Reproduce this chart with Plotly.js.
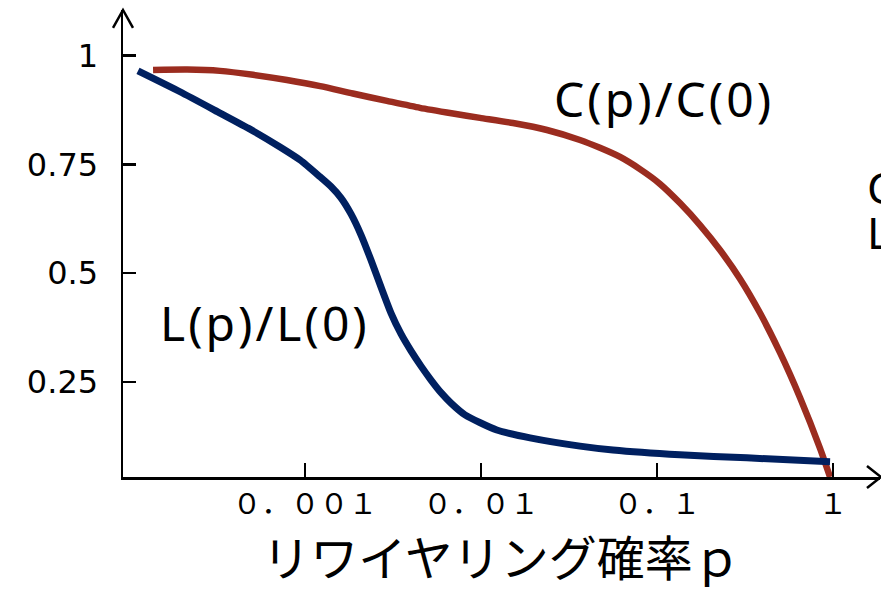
<!DOCTYPE html>
<html>
<head>
<meta charset="utf-8">
<script src="https://cdn.plot.ly/plotly-3.0.1.min.js"></script>
<style>
html,body{margin:0;padding:0;background:#fff;}
#chart{width:881px;height:590px;}
</style>
</head>
<body>
<div id="chart"></div>
<script>
// Rewiring probability p (log axis) and normalized values
var cP = [1.37e-4, 2.14e-4, 3.29e-4, 5.07e-4, 7.90e-4, 1.22e-3, 1.87e-3, 2.92e-3, 4.50e-3, 6.93e-3, 9.87e-3, 0.0152, 0.0237, 0.0365, 0.0474, 0.0617, 0.0800, 0.104, 0.135, 0.175, 0.228, 0.296, 0.385, 0.500, 0.649, 0.844, 0.962];
var cVal = [0.967, 0.968, 0.965, 0.956, 0.944, 0.930, 0.913, 0.896, 0.880, 0.867, 0.857, 0.845, 0.829, 0.806, 0.788, 0.767, 0.739, 0.705, 0.661, 0.611, 0.553, 0.487, 0.408, 0.317, 0.214, 0.097, 0.031];

var lP = [1.125e-4, 1.95e-4, 3.29e-4, 4.87e-4, 7.21e-4, 9.38e-4, 1.22e-3, 1.405e-3, 1.601e-3, 1.825e-3, 2.080e-3, 2.371e-3, 2.703e-3, 3.081e-3, 3.512e-3, 4.003e-3, 4.563e-3, 5.201e-3, 5.928e-3, 6.755e-3, 8.11e-3, 0.0123, 0.0190, 0.0365, 0.0562, 0.135, 0.324, 0.962];
var lVal = [0.965, 0.917, 0.868, 0.831, 0.790, 0.760, 0.721, 0.699, 0.673, 0.636, 0.588, 0.530, 0.468, 0.408, 0.360, 0.321, 0.286, 0.254, 0.225, 0.201, 0.174, 0.139, 0.121, 0.102, 0.093, 0.082, 0.075, 0.066];

var xTickVals = [0.001, 0.01, 0.1, 1];
var xTickText = ['０．００１', '０．０１', '０．１', '１'];
var yTickVals = [0.25, 0.5, 0.75, 1];
var yTickText = ['0.25', '0.5', '0.75', '1'];

var cLabel = 'C(p)/C(0)';
var lLabel = 'L(p)/L(0)';
var xTitle = 'リワイヤリング確率ｐ';

function spaced(t) { return '<span style="letter-spacing:3px">' + t + '</span>'; }

var traces = [
  {x: cP, y: cVal, type: 'scatter', mode: 'lines', name: cLabel,
   line: {color: '#9b2c1f', width: 6.5, shape: 'spline', smoothing: 0.6}},
  {x: lP, y: lVal, type: 'scatter', mode: 'lines', name: lLabel,
   line: {color: '#002060', width: 7, shape: 'spline', smoothing: 0.6}}
];

var layout = {
  width: 881, height: 590,
  margin: {l: 123, r: 1, t: 10, b: 113},
  paper_bgcolor: '#fff', plot_bgcolor: '#fff',
  showlegend: false,
  xaxis: {
    type: 'log', range: [-4.034, 0.267],
    showgrid: false, zeroline: false,
    showline: true, linecolor: '#000', linewidth: 2.5,
    ticks: 'inside', ticklen: 14, tickwidth: 2.5, tickcolor: '#000',
    tickvals: xTickVals, ticktext: xTickText,
    tickfont: {family: 'Noto Sans CJK JP', size: 29, color: '#000'},
    ticklabelstandoff: 0,
    title: {text: xTitle, font: {family: 'Noto Sans CJK JP', size: 48, color: '#000'}, standoff: 10}
  },
  yaxis: {
    range: [0.031, 1.105],
    showgrid: false, zeroline: false,
    showline: true, linecolor: '#000', linewidth: 2.5,
    ticks: 'inside', ticklen: 13, tickwidth: 2.5, tickcolor: '#000',
    tickvals: yTickVals, ticktext: yTickText,
    tickfont: {family: 'DejaVu Sans', size: 32, color: '#000'},
    ticklabelstandoff: 16
  },
  shapes: [
    {type: 'path', xref: 'paper', yref: 'paper',
     path: 'M -0.0132 0.9615 L 0 1.0 L 0.0132 0.9615',
     line: {color: '#000', width: 2.5}},
    {type: 'path', xref: 'paper', yref: 'paper',
     path: 'M 0.9828 0.0236 L 1.0013 0 L 0.9828 -0.0236',
     line: {color: '#000', width: 2.5}}
  ],
  annotations: [
    {xref: 'paper', yref: 'paper', x: 0.7147, y: 0.8105, xanchor: 'center', yanchor: 'middle',
     text: spaced(cLabel), showarrow: false, font: {family: 'Noto Sans', size: 48, color: '#000'}},
    {xref: 'paper', yref: 'paper', x: 0.1876, y: 0.3298, xanchor: 'center', yanchor: 'middle',
     text: spaced(lLabel), showarrow: false, font: {family: 'Noto Sans', size: 48, color: '#000'}},
    {xref: 'paper', yref: 'paper', x: 0.980, y: 0.621, xanchor: 'left', yanchor: 'middle',
     text: 'C', showarrow: false, font: {family: 'Noto Sans', size: 44, color: '#000'}},
    {xref: 'paper', yref: 'paper', x: 0.980, y: 0.5246, xanchor: 'left', yanchor: 'middle',
     text: 'L', showarrow: false, font: {family: 'Noto Sans', size: 44, color: '#000'}}
  ]
};

Plotly.newPlot('chart', traces, layout, {displayModeBar: false, staticPlot: true});
</script>
</body>
</html>
